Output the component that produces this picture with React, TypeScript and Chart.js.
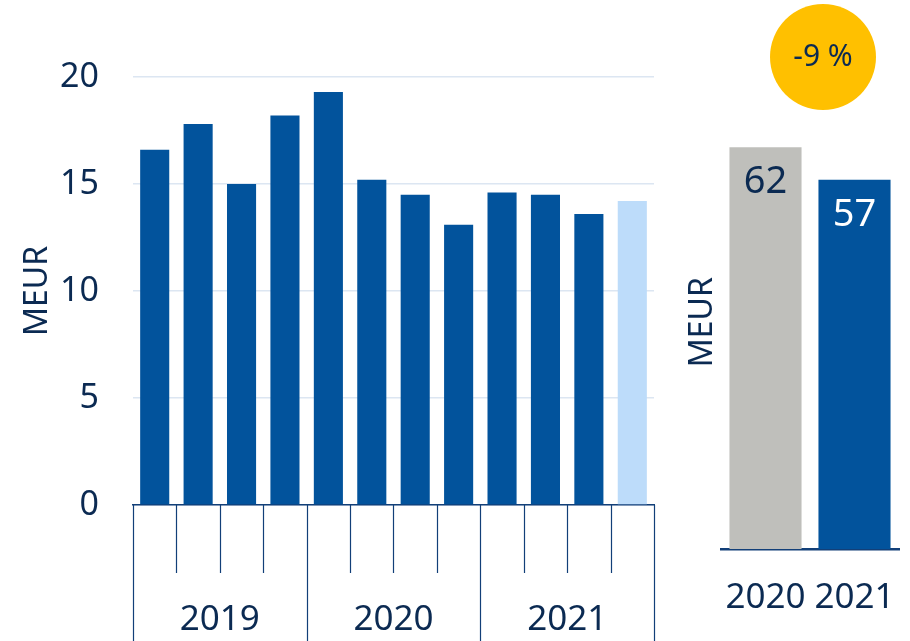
import React, { useEffect, useRef } from "react";
import { Chart, registerables } from "chart.js";

Chart.register(...registerables);

// ---- data ----
const quarterLabels = [
  "2019 Q1", "2019 Q2", "2019 Q3", "2019 Q4",
  "2020 Q1", "2020 Q2", "2020 Q3", "2020 Q4",
  "2021 Q1", "2021 Q2", "2021 Q3", "2021 Q4",
];
const quarterValues = [16.6, 17.8, 15.0, 18.2, 19.3, 15.2, 14.5, 13.1, 14.6, 14.5, 13.6, 14.2];
const years = ["2019", "2020", "2021"];
const yTicks = [0, 5, 10, 15, 20];
const annualLabels = ["2020", "2021"];
const annualValues = [62, 57];
const changeLabel = "-9 %";
const unitLabel = "MEUR";

// ---- styles ----
const FONT = "'Noto Sans', 'Open Sans', sans-serif";
const NAVY_TEXT = "#0b2a52";
const NAVY_LINE = "#123f78";
const BAR_BLUE = "#02539c";
const BAR_LIGHT = "#bddcfa";
const BAR_GRAY = "#bfbfbb";
const GRID = "#dce6f2";
const YELLOW = "#ffc000";

const groupPlugin = {
  id: "yearGroups",
  afterDraw(chart: any) {
    const { ctx, chartArea } = chart;
    const x = chart.scales.x;
    const n = quarterLabels.length;
    const perYear = n / years.length;
    const step = x.getPixelForValue(1) - x.getPixelForValue(0);
    ctx.save();
    ctx.strokeStyle = NAVY_LINE;
    ctx.lineWidth = 1.2;
    for (let i = 0; i <= n; i++) {
      const px = Math.round(x.getPixelForValue(0) - step / 2 + i * step) + 0.5;
      const long = i % perYear === 0;
      ctx.beginPath();
      ctx.moveTo(px, chartArea.bottom);
      ctx.lineTo(px, long ? chart.height : chartArea.bottom + 68);
      ctx.stroke();
    }
    ctx.fillStyle = NAVY_TEXT;
    ctx.font = `35px ${FONT}`;
    ctx.textAlign = "center";
    ctx.textBaseline = "middle";
    years.forEach((yr) => {
      const idx = quarterLabels.map((l, i) => (l.startsWith(yr) ? i : -1)).filter((i) => i >= 0);
      const cx = (x.getPixelForValue(idx[0]) + x.getPixelForValue(idx[idx.length - 1])) / 2;
      ctx.fillText(yr, cx, chartArea.bottom + 115);
    });
    ctx.restore();
  },
};

const annualPlugin = {
  id: "annualLabels",
  afterDatasetsDraw(chart: any) {
    const { ctx, chartArea } = chart;
    const meta = chart.getDatasetMeta(0);
    ctx.save();
    ctx.textAlign = "center";
    ctx.textBaseline = "middle";
    meta.data.forEach((bar: any, i: number) => {
      ctx.font = `38px ${FONT}`;
      ctx.fillStyle = i === 0 ? NAVY_TEXT : "#ffffff";
      ctx.fillText(String(annualValues[i]), bar.x, bar.y + 35);
      ctx.font = `35px ${FONT}`;
      ctx.fillStyle = NAVY_TEXT;
      ctx.fillText(annualLabels[i], bar.x, chartArea.bottom + 49);
    });
    // change bubble
    const x = chart.scales.x;
    const cx = (x.getPixelForValue(0) + x.getPixelForValue(1)) / 2 + 13;
    const cy = 57;
    ctx.beginPath();
    ctx.arc(cx, cy, 53, 0, Math.PI * 2);
    ctx.fillStyle = YELLOW;
    ctx.fill();
    ctx.fillStyle = NAVY_TEXT;
    ctx.font = `30px ${FONT}`;
    ctx.fillText(changeLabel, cx, cy);
    ctx.restore();
  },
};

export default function App() {
  const leftRef = useRef<HTMLCanvasElement>(null);
  const rightRef = useRef<HTMLCanvasElement>(null);

  useEffect(() => {
    const left = new Chart(leftRef.current!, {
      type: "bar",
      data: {
        labels: quarterLabels,
        datasets: [
          {
            data: quarterValues,
            backgroundColor: quarterValues.map((_, i) => (i === quarterValues.length - 1 ? BAR_LIGHT : BAR_BLUE)),
            barPercentage: 0.67,
            categoryPercentage: 1,
          },
        ],
      },
      options: {
        animation: false,
        responsive: false,
        maintainAspectRatio: false,
        layout: { padding: { top: 77, right: 16, left: 0, bottom: 0 } },
        plugins: { legend: { display: false }, tooltip: { enabled: false } },
        scales: {
          x: {
            offset: true,
            grid: { display: false },
            border: { display: true, color: NAVY_LINE, width: 1.5 },
            ticks: { display: false },
            afterFit: (s: any) => {
              s.height = 136;
            },
          },
          y: {
            min: yTicks[0],
            max: yTicks[yTicks.length - 1],
            afterBuildTicks: (s: any) => {
              s.ticks = yTicks.map((v) => ({ value: v }));
            },
            ticks: { font: { family: FONT, size: 34 }, color: NAVY_TEXT, padding: 34 },
            grid: { color: GRID, drawTicks: false, lineWidth: 1.5 },
            border: { display: false },
            title: {
              display: true,
              text: unitLabel,
              font: { family: FONT, size: 32 },
              color: NAVY_TEXT,
              padding: { top: 19, bottom: 0 },
            },
            afterFit: (s: any) => {
              s.width = 133;
            },
          },
        },
      },
      plugins: [groupPlugin],
    });

    const right = new Chart(rightRef.current!, {
      type: "bar",
      data: {
        labels: annualLabels,
        datasets: [
          {
            data: annualValues,
            backgroundColor: [BAR_GRAY, BAR_BLUE],
            barPercentage: 0.81,
            categoryPercentage: 1,
          },
        ],
      },
      options: {
        animation: false,
        responsive: false,
        maintainAspectRatio: false,
        layout: { padding: { top: 95.5, right: 11, left: 0, bottom: 0 } },
        plugins: { legend: { display: false }, tooltip: { enabled: false } },
        scales: {
          x: {
            grid: { display: false, drawTicks: false },
            border: { display: true, color: NAVY_LINE, width: 2.5 },
            ticks: { display: false },
            afterFit: (s: any) => {
              s.height = 92;
            },
          },
          y: {
            min: 0,
            max: 70,
            ticks: { display: false },
            grid: { display: false, drawTicks: false },
            border: { display: false },
            title: {
              display: true,
              text: unitLabel,
              font: { family: FONT, size: 32 },
              color: NAVY_TEXT,
              padding: { top: 14, bottom: 0 },
            },
            afterFit: (s: any) => {
              s.width = 51;
            },
          },
        },
      },
      plugins: [annualPlugin],
    });

    return () => {
      left.destroy();
      right.destroy();
    };
  }, []);

  return (
    <div style={{ position: "absolute", left: 0, top: 0, width: 910, height: 641, background: "#fff" }}>
      <canvas
        ref={leftRef}
        width={670}
        height={641}
        style={{ position: "absolute", left: 0, top: 0, width: 670, height: 641, display: "block" }}
      />
      <canvas
        ref={rightRef}
        width={240}
        height={641}
        style={{ position: "absolute", left: 670, top: 0, width: 240, height: 641, display: "block" }}
      />
    </div>
  );
}
